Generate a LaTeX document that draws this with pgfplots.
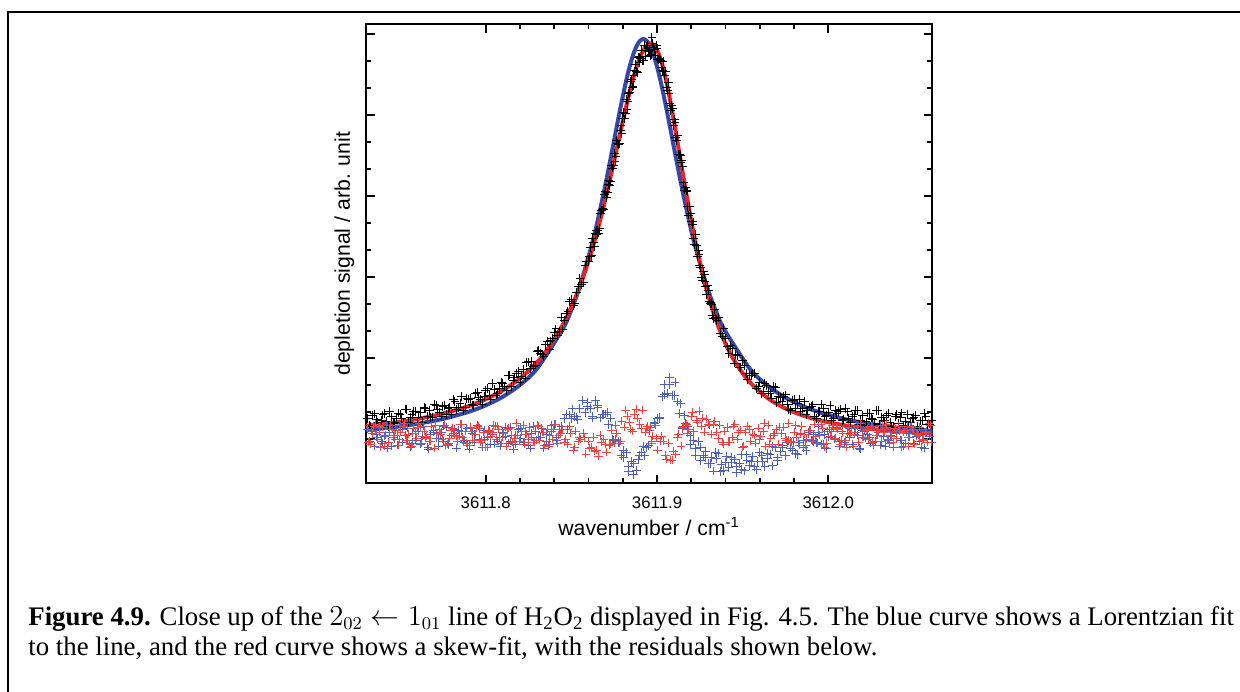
\documentclass[border=0pt]{standalone}
\usepackage{pgfplots}
\pgfplotsset{compat=1.18}
\usepackage{fontspec}
\setmainfont{Liberation Serif}
\newfontfamily\arial{Liberation Sans}
\definecolor{fitblue}{RGB}{52,72,170}
\definecolor{fitred}{RGB}{230,38,40}
\definecolor{resblue}{RGB}{76,96,190}
\definecolor{resred}{RGB}{240,66,66}
\begin{document}
\begin{tikzpicture}[x=1pt,y=1pt]
\useasboundingbox (0,0) rectangle (620,345.5);
\draw[line width=0.9pt] (3.85,-10) -- (3.85,339.65) -- (640,339.65);
\begin{axis}[
  at={(183pt,103.85pt)}, anchor=south west,
  scale only axis, width=283.15pt, height=229.5pt,
  xmin=-69.9, xmax=260.7, ymin=-44.3, ymax=414.7,
  xtick={0,100,200}, xticklabels={3611.8,3611.9,3612.0},
  minor x tick num=4,
  ytick={0,81,162,243,324,405}, yticklabels={}, minor y tick num=2,
  tick align=inside,
  major tick length=4.4pt, minor tick length=2.6pt,
  every tick/.style={black, line width=0.9pt},
  axis line style={line width=1pt},
  ticklabel style={font=\arial\fontsize{8.4}{10}\selectfont},
  xticklabel style={yshift=-3pt},
  xlabel={wavenumber / cm\textsuperscript{-1}},
  ylabel={depletion signal / arb. unit},
  label style={font=\arial\fontsize{10.6}{12}\selectfont},
  xlabel style={at={(axis description cs:0.5,-0.1133)}, anchor=base},
  ylabel style={at={(axis description cs:-0.0283,0.5)}, anchor=base},
  clip=true,
  every axis plot post/.append style={mark options={line width=0.5pt}},
]
% black data
\addplot[only marks, mark=+, mark size=2.2pt, black] coordinates {
(-69,20.3)(-67,12.7)(-65,25.1)(-63,16.5)(-61,18.9)(-59,25.3)(-57,12.6)(-55,22.1)(-53,16.5)(-51,26)
(-49,20.5)(-47,30)(-45,16.6)(-43,24.2)(-41,27.7)(-39,21.3)(-37,16.9)(-35,30.6)(-33,28.3)(-31,22)
(-29,33.8)(-27,26.6)(-25,32.4)(-23,24.3)(-21,31.3)(-19,39.3)(-17,29.3)(-15,35.3)(-13,28.4)(-11,40.5)
(-9,40.5)(-7,33.7)(-5,47)(-3,39.3)(-1,42.8)(1,50.6)(3,39.3)(5,50)(7,45.9)(9,56.8)
(11,52.8)(13,63.9)(15,52.2)(17,61.6)(19,67.2)(21,63)(23,61)(25,77.1)(27,77.5)(29,74)
(31,88.8)(33,84.8)(35,94)(37,89.5)(39,100.5)
(40,106.2)(42,103.8)(44,121.5)(46,118.8)(48,127.9)(50,139.9)(52,135.3)(54,152.7)(56,154.7)(58,173.4)
(60,177.2)(61,191.7)(62,183.1)(63,196.2)(64,205.2)(65,204.3)(66,205.9)(67,225.4)(68,229)(69,229.1)
(70,247.2)(71,246.3)(72,258.8)(73,257.4)(74,270.9)(75,285.7)(76,282.4)(77,295.2)(78,295)(79,313.7)
(80,320.5)(81,320)(82,339.5)(83,337.8)(84,346.8)(85,359.8)(86,352.9)(87,368)(88,367.6)(89,381.5)
(90,376.5)(91,388.9)(92,378.2)(93,388.6)(94,393)(95,387.4)(96,383.4)(97,401.2)(98,391.9)(99,383.1)
(100,390.6)(101,379.1)(102,378.9)(103,368.6)(104,367.7)(105,367.8)(106,348.6)(107,345.4)(108,328.3)(109,330.1)
(110,319.3)(111,301.4)(112,303.3)(113,284.2)(114,276.1)(115,272)(116,248.9)(117,248.2)(118,232.5)(119,232.2)
(120,217.1)(121,217)(122,194.7)(123,193.5)(124,188.2)(125,173.9)(126,161.5)(127,167.2)(128,157.7)(129,144.3)
(130,148.8)(131,135.4)(132,134.9)(133,120.5)(134,121)(136,121.2)(138,102.3)(140,100.4)(142,85.5)(144,90.6)
(146,84.3)(148,72)(150,78.7)
(152,65.8)(154,63.8)(156,66.0)(158,50.2)(160,56.4)(162,47.6)(164,53.7)(166,45.5)(168,52.6)(170,36.6)
(172,41.6)(174,42.7)(176,34.5)(178,28.2)(180,39.8)(182,35.5)(184,27.2)(186,37.4)(188,28.5)(190,32.5)
(192,22.6)(194,27.7)(196,34.2)(198,22.6)(200,27)(202,18.4)(204,28.8)(206,27.3)(208,18.7)(210,30.2)
(212,20.8)(214,22.4)(216,28.2)(218,14.8)(220,23.4)(222,17.1)(224,25.7)(226,19.6)(228,28.5)(230,14.3)
(232,21.1)(234,23.9)(236,16.9)(238,11.7)(240,24.5)(242,21.3)(244,13.8)(246,24.8)(248,16.6)(250,21.4)
(252,12.3)(254,18.1)(256,25.2)(258,14.1)(260,19)
(-68,13.5)(-66,23.9)(-64,19.3)(-62,11.7)(-60,24.1)(-58,17.5)(-56,27.8)(-54,15.3)(-52,20.8)(-50,24.3)
(-48,15.8)(-46,29.3)(-44,21.9)(-42,27.5)(-40,16)(-38,26.6)(-36,31.3)(-34,23)(-32,21.7)(-30,34.4)
(-28,29.2)(-26,23)(-24,33.9)(-22,30.8)(-20,24.8)(-18,37.8)(-16,31.8)(-14,42.9)(-12,31.9)(-10,40)
(-8,34.1)(-6,45.4)(-4,41.7)(-2,35)(0,48.7)(2,43.5)(4,55.2)(6,44)(8,50.9)(10,55.8)
(12,48.9)(14,64)(16,58.4)(18,65.9)(20,56.6)(22,69.5)(24,76.6)(26,70.8)(28,72.3)(30,87.9)
(32,85.8)(34,82.9)(36,97.3)(38,98)
(41,110)(43,107.7)(45,109.3)(47,125.4)(49,137.4)(51,133.1)(53,146.5)(55,160.9)(57,156.6)(59,177.8)
(60.5,182)(61.5,182.4)(62.5,200.2)(63.5,192.2)(64.5,208.3)(65.5,208.6)(66.5,210.2)(67.5,228.7)(68.5,230.6)(69.5,244.7)
(70.5,241.8)(71.5,254.1)(72.5,253.6)(73.5,273.2)(74.5,273.8)(75.5,277.6)(76.5,298.3)(77.5,294.1)(78.5,308.9)(79.5,305.6)
(80.5,326.3)(81.5,325.8)(82.5,329.2)(83.5,345.3)(84.5,357.3)(85.5,351.9)(86.5,363)(87.5,374.8)(88.5,366.1)(89.5,382)
(90.5,380.2)(91.5,378.6)(92.5,393.9)(93.5,382.3)(94.5,393.7)(95.5,388.9)(96.5,384.3)(97.5,395.6)(98.5,389)(99.5,393.4)
(100.5,379.9)(101.5,380.5)(102.5,371.3)(103.5,377.2)(104.5,363.3)(105.5,351.7)(106.5,356.5)(107.5,335.9)(108.5,333.7)(109.5,313.2)
(110.5,316.4)(111.5,298.4)(112.5,284.3)(113.5,283.2)(114.5,278.1)(115.5,256)(116.5,251.1)(117.5,247.4)(118.5,223.9)(119.5,225.7)
(120.5,214.6)(121.5,200.9)(122.5,204.6)(123.5,182.4)(124.5,184.6)(125.5,171.2)(126.5,158.9)(127.5,164)(128.5,152.5)(129.5,153.1)
(130.5,137.1)(131.5,136.7)(132.5,123.2)(133.5,129.8)
(135,118.6)(137,105.8)(139,110.9)(141,92)(143,93.1)(145,76)(147,83.7)(149,71.4)
(151,73.8)(153,59.8)(155,63.9)(157,65.6)(159,52.8)(161,45.1)(163,55.2)(165,47.4)(167,40.5)(169,51.6)
(171,42.7)(173,37.7)(175,44.1)(177,29.8)(179,38.5)(181,30.2)(183,39.9)(185,30.8)(187,24.9)(189,32)
(191,34.1)(193,20.2)(195,27.5)(197,30.9)(199,23.3)(201,33.8)(203,20.2)(205,25.6)(207,30)(209,19.4)
(211,27.1)(213,16.7)(215,24.3)(217,29)(219,18.6)(221,13.3)(223,26)(225,20.7)(227,15.5)(229,28.4)
(231,21.3)(233,18.1)(235,25.9)(237,12.8)(239,22.6)(241,15.5)(243,26.1)(245,17.8)(247,12.7)(249,20.5)
(251,23.4)(253,10.3)(255,18.2)(257,22.1)(259,15)
};
% blue residuals
\addplot[only marks, mark=+, mark size=2.2pt, resblue] coordinates {
(-68,-2)(-66.5,9)(-65,-7)(-63.5,5)(-62,12)(-60.5,-4)(-59,3)(-57.5,-9)(-56,7)(-54.5,10)
(-53,0)(-51.5,-6)(-50,14)(-48.5,-3)(-47,4)(-45.5,11)(-44,-8)(-42.5,6)(-41,-1)(-39.5,8)
(-38,-5)(-36.5,13)(-35,2)(-33.5,-10)(-32,5)(-30.5,9)(-29,1)(-27.5,-7)(-26,7)(-24.5,-2)
(-23,12)(-21.5,-4)(-20,4)(-18.5,10)(-17,-9)(-15.5,3)(-14,8)(-12.5,-1)(-11,11)(-9.5,-6)
(-8,6)(-6.5,-3)(-5,14)(-3.5,0)(-2,-8)(-0.5,9)(1,2)(2.5,-5)(4,5)(5.5,13)
(7,-2)(8.5,-7)(10,7)(11.5,3)(13,-4)(14.5,12)(16,-10)(17.5,4)(19,10)(20.5,1)
(22,-3)(23.5,8)(25,-6)(26.5,6)(28,13)(29.5,-1)(31,2)(32.5,11)(34,-9)(35.5,5)
(37,-5)(38.5,7.4)(40,14.8)(41.5,1.7)(43,9.8)(44.5,9.9)(46,20.7)(47.5,9.5)(49,24.1)(50.5,30.1)
(52,22.4)(53.5,19.8)(55,30.7)(56.5,38.8)(58,26.7)(59.5,36.7)(61,30.7)(62.5,21)(64,38.6)(65.5,31.6)
(67,21.1)(68.5,24.5)(70,25)(71.5,14.3)(73,21)(74.5,-1.7)(76,-0.3)(77.5,-2.3)(79,-16.5)(80.5,-18.8)
(82,-13.5)(83.5,-32.3)(85,-22.5)(86.5,-24.8)(88,-31.5)(89.5,-16.2)(91,-13.5)(92.5,-16.2)(94,-8.5)(95.5,8.5)
(97,-2.3)(98.5,15.2)(100,20.9)(101.5,20.4)(103,42.6)(104.5,54.3)(106,45.7)(107.5,54.1)(109,43.6)(110.5,56.6)
(112,37.1)(113.5,35.7)(115,10.7)(116.5,15.2)(118,12.7)(119.5,-5.5)(121,-1)(122.5,-9.3)(124,-2.3)(125.5,-21.3)
(127,-16.5)(128.5,-12)(130,-24.4)(131.5,-18.8)(133,-32)(134.5,-19.4)(136,-14)(137.5,-25.4)(139,-31.2)(140.5,-17.6)
(142,-28.6)(143.5,-23.5)(145,-20.1)(146.5,-33.7)(148,-24.4)(149.5,-15.9)(151,-31.9)(152.5,-21)(154,-26.4)(155.5,-17.4)
(157,-27.9)(158.5,-22.3)(160,-13.3)(161.5,-22.5)(163,-27.4)(164.5,-14.5)(166,-15.2)(167.5,-26.9)(169,-8.9)(170.5,-18.9)
(172,-12.4)(173.5,-6.9)(175,-16.7)(176.5,-1.8)(178,-9)(179.5,-3.5)(181,-14.3)(182.5,-3.3)(184,5.8)(185.5,-8.1)
(187,-11.1)(188.5,5)(190,-1)(191.5,4.5)(193,-3.1)(194.5,12.4)(196,-5.2)(197.5,4.2)(199,-9.3)(200.5,10)
(202,3)(203.5,0)(205,12)(206.5,-7)(208,8)(209.5,-3)(211,6)(212.5,2)(214,-5)(215.5,11)
(217,4)(218.5,-10)(220,9)(221.5,1)(223,5)(224.5,-4)(226,13)(227.5,-2)(229,7)(230.5,-6)
(232,3)(233.5,12)(235,-1)(236.5,8)(238,-8)(239.5,6)(241,9)(242.5,-1)(244,-7)(245.5,7)
(247,2)(248.5,13)(250,-4)(251.5,5)(253,-2)(254.5,10)(256,-9)(257.5,8)(259,3)(260.5,-3)
(-66.75,8)(-63.75,2)(-60.75,-2)(-57.75,14)(-54.75,-7)(-51.75,4)(-48.75,10)(-45.75,-1)(-42.75,-4)(-39.75,12)
(-36.75,3)(-33.75,-8)(-30.75,7)(-27.75,1)(-24.75,13)(-21.75,-6)(-18.75,6)(-15.75,9)(-12.75,-3)(-9.75,-10)
(-6.75,5)(-3.75,11)(-0.75,0)(2.25,8)(5.25,-5)(8.25,2)(11.25,12)(14.25,-2)(17.25,-5)(20.25,11)
(23.25,5)(26.25,-9)(29.25,8)(32.25,2)(35.25,-2)(38.25,14)(41.25,-1.8)(44.25,12.9)(47.25,24.3)(50.25,20.3)
(53.25,22.1)(56.25,38.6)(59.25,32.3)(62.25,22.8)(65.25,33.6)(68.25,24.3)(71.25,26.9)(74.25,-0.5)(77.25,-4)(80.25,-11.1)
(83.25,-27.3)(86.25,-35.1)(89.25,-20.5)(92.25,-7.2)(95.25,-6.8)(98.25,16.7)(101.25,21.7)(104.25,44.6)(107.25,62)(110.25,43.4)
(113.25,25.3)(116.25,23.8)(119.25,3.3)(122.25,-16.4)(125.25,-8)(128.25,-18.6)(131.25,-24.5)(134.25,-13.3)(137.25,-32.1)(140.25,-23.5)
(143.25,-18.4)(146.25,-27.8)(149.25,-30.3)(152.25,-15.9)(155.25,-22.6)(158.25,-30.9)(161.25,-16.7)(164.25,-19.8)(167.25,-7.5)(170.25,-21.6)
(173.25,-8.9)(176.25,-3.8)(179.25,-11.4)(182.25,-15.3)(185.25,-1.3)(188.25,6.7)(191.25,-2.6)(194.25,6.3)(197.25,-5.7)(200.25,2)
(203.25,12)(206.25,-2)(209.25,-5)(212.25,11)(215.25,5)(218.25,-9)(221.25,8)(224.25,2)(227.25,-2)(230.25,14)
(233.25,-7)(236.25,4)(239.25,10)(242.25,-1)(245.25,-4)(248.25,12)(251.25,3)(254.25,-8)(257.25,7)
};
% red residuals
\addplot[only marks, mark=+, mark size=2.2pt, resred] coordinates {
(-69,10)(-67.5,-5)(-66,6)(-64.5,15)(-63,0)(-61.5,-8)(-60,12)(-58.5,4)(-57,-3)(-55.5,14)
(-54,2)(-52.5,9)(-51,-6)(-49.5,7)(-48,13)(-46.5,-1)(-45,5)(-43.5,-7)(-42,11)(-40.5,1)
(-39,16)(-37.5,-4)(-36,8)(-34.5,3)(-33,-2)(-31.5,13)(-30,-9)(-28.5,6)(-27,10)(-25.5,0)
(-24,14)(-22.5,-5)(-21,1)(-19.5,11)(-18,4)(-16.5,-2)(-15,15)(-13.5,2)(-12,8)(-10.5,-6)
(-9,12)(-7.5,-1)(-6,5)(-4.5,13)(-3,-3)(-1.5,7)(0,-8)(1.5,9)(3,3)(4.5,14)
(6,0)(7.5,10)(9,-4)(10.5,6)(12,-7)(13.5,11)(15,4)(16.5,1)(18,16)(19.5,-2)
(21,8)(22.5,-5)(24,5)(25.5,12)(27,2)(28.5,-3)(30,14)(31.5,-1)(33,7)(34.5,-6)
(36,10)(37.5,4)(39,0)(40.5,15)(42,-4)(43.5,6)(45,10)(46.5,0)(48,-5)(49.5,6)
(51,-11)(52.5,8)(54,-2)(55.5,0)(57,6)(58.5,-15)(60,-2)(61.5,-8)(63,2)(64.5,-11)
(66,-17)(67.5,-3)(69,0)(70.5,-13)(72,-6)(73.5,9)(75,-4)(76.5,6)(78,-4)(79.5,18)
(81,12)(82.5,23)(84,17)(85.5,8)(87,25)(88.5,21)(90,15)(91.5,29)(93,7)(94.5,13)
(96,12)(97.5,3)(99,14)(100.5,-11)(102,-2)(103.5,-2)(105,-16)(106.5,-4)(108,-21)(109.5,-12)
(111,-15)(112.5,5)(114,-7)(115.5,13)(117,15)(118.5,10)(120,23)(121.5,8)(123,19)(124.5,28)
(126,13)(127.5,7)(129,20)(130.5,14)(132,5)(133.5,18)(135,7)(136.5,14)(138,-3)(139.5,8)
(141,12)(142.5,-3)(144,2)(145.5,15)(147,0)(148.5,9)(150,-8)(151.5,7)(153,13)(154.5,-2)
(156,5)(157.5,-4)(159,11)(160.5,3)(162,8)(163.5,-7)(165,14)(166.5,1)(168,4)(169.5,10)
(171,-5)(172.5,6)(174,12)(175.5,-1)(177,16)(178.5,-3)(180,7)(181.5,2)(183,-6)(184.5,13)
(186,5)(187.5,0)(189,9)(190.5,-2)(192,15)(193.5,-4)(195,4)(196.5,11)(198,-8)(199.5,8)
(201,3)(202.5,14)(204,1)(205.5,10)(207,-5)(208.5,6)(210,-1)(211.5,12)(213,5)(214.5,-7)
(216,7)(217.5,-3)(219,16)(220.5,2)(222,9)(223.5,0)(225,13)(226.5,-6)(228,4)(229.5,10)
(231,-2)(232.5,7)(234,15)(235.5,-4)(237,3)(238.5,11)(240,1)(241.5,8)(243,-8)(244.5,9)
(246,13)(247.5,2)(249,10)(250.5,-5)(252,5)(253.5,12)(255,-1)(256.5,7)(258,-3)(259.5,14)
(-68.25,-3)(-65.25,13)(-62.25,7)(-59.25,-7)(-56.25,10)(-53.25,4)(-50.25,0)(-47.25,16)(-44.25,-5)(-41.25,6)
(-38.25,12)(-35.25,1)(-32.25,-2)(-29.25,14)(-26.25,5)(-23.25,-6)(-20.25,9)(-17.25,3)(-14.25,15)(-11.25,-4)
(-8.25,8)(-5.25,11)(-2.25,-1)(0.75,-8)(3.75,7)(6.75,13)(9.75,2)(12.75,10)(15.75,-3)(18.75,4)
(21.75,14)(24.75,0)(27.75,-3)(30.75,13)(33.75,7)(36.75,-7)(39.75,10)(42.75,4)(45.75,-3)(48.75,13)
(51.75,-8)(54.75,2)(57.75,2)(60.75,-9)(63.75,-12)(66.75,4)(69.75,-5)(72.75,-5)(75.75,14)(78.75,-2)
(81.75,29)(84.75,10)(87.75,30)(90.75,11)(93.75,11)(96.75,-4)(99.75,1)(102.75,3)(105.75,-20)(108.75,-21)
(111.75,2)(114.75,12)(117.75,6)(120.75,27)(123.75,17)(126.75,21)(129.75,15)(132.75,15)(135.75,1)(138.75,-5)
(141.75,-3)(144.75,13)(147.75,7)(150.75,-7)(153.75,10)(156.75,4)(159.75,0)(162.75,16)(165.75,-5)(168.75,6)
(171.75,12)(174.75,1)(177.75,-2)(180.75,14)(183.75,5)(186.75,-6)(189.75,9)(192.75,3)(195.75,15)(198.75,-4)
(201.75,8)(204.75,11)(207.75,-1)(210.75,-8)(213.75,7)(216.75,13)(219.75,2)(222.75,10)(225.75,-3)(228.75,4)
(231.75,14)(234.75,0)(237.75,-3)(240.75,13)(243.75,7)(246.75,-7)(249.75,10)(252.75,4)(255.75,0)(258.75,16)
};
% blue Lorentzian fit
\addplot[fitblue, line width=2pt, smooth] coordinates {
(-70,9.0)(-55,11.6)(-40,15.2)(-25,20.1)(-10,27.2)(0,33.7)(10,42.3)(20,54.1)(30,70.6)(45,110.2)
(50,129.5)(55,153.0)(62,194.6)(65,215.8)(68,239.1)(71,264.1)(74,290.4)(76.5,312.6)(79,334.3)(82,358.4)
(84,372.3)(86,383.9)(88,392.7)(90,398.1)(92,400)(94,398.1)(96,392.7)(98,383.9)(100,372.3)(102,358.4)
(105,334.3)(107.5,312.6)(110,290.4)(113,264.1)(116,239.1)(119,215.8)(122,194.6)(129,153.0)(134,129.5)(139,110.2)
(154,70.6)(164,54.1)(174,42.3)(184,33.7)(194,27.2)(209,20.1)(224,15.2)(240,11.4)(261,7.9)
};
% red skew fit
\addplot[fitred, line width=2pt, smooth] coordinates {
(-70,13.1)(-55,16.05)(-40,20.0)(-25,25.4)(-10,32.9)(0,39.8)(10,48.7)(20,60.6)(30,76.9)(38,94.5)
(45,114.3)(50,131.9)(55,152.9)(58,167.4)(62,189.1)(65,207.3)(68,227.0)(71,248.3)(74,270.9)(77,294.2)
(80,317.5)(82.5,336.3)(85,353.8)(87.5,369.1)(90,381.5)(93,391.6)(94.5,394.3)(96.3,395.5)(98,394.2)(99,392.1)
(101,385.1)(103,374.6)(105,360.8)(107,344.4)(109,326.1)(111,306.4)(113.5,281.1)(116,255.9)(118.5,231.7)(121,209.0)
(124,184.2)(127,162.2)(130,142.8)(134,121.0)(139,98.9)(144,81.6)(150,65.7)(156,53.6)(165,40.5)(174,31.3)
(184,24.2)(194,19.1)(209,13.8)(224,10.3)(243,7.3)(261,5.35)
};
\end{axis}
\node[anchor=base west, inner sep=0pt, font=\fontsize{13.4}{15}\selectfont] at (14,33)
  {\textbf{Figure 4.9.} Close up of the $2_{02} \leftarrow 1_{01}$ line of H\textsubscript{2}O\textsubscript{2} displayed in Fig. 4.5. The blue curve shows a Lorentzian fit};
\node[anchor=base west, inner sep=0pt, font=\fontsize{13.4}{15}\selectfont] at (14,18)
  {to the line, and the red curve shows a skew-fit, with the residuals shown below.};
\end{tikzpicture}
\end{document}
